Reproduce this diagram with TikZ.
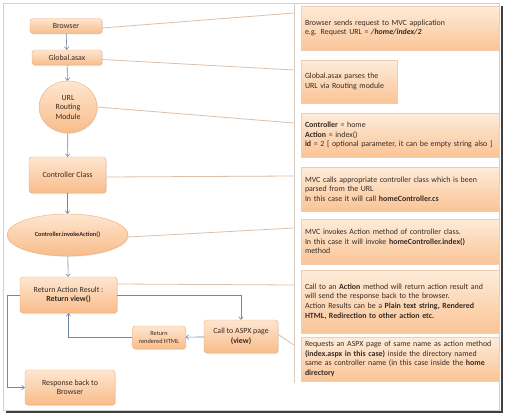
\documentclass[tikz,border=0pt]{standalone}
\usepackage{fontspec}
\setmainfont{Carlito}
\usepackage{xcolor}
\usetikzlibrary{arrows.meta,shadows,shapes.geometric}

\definecolor{boxtop}{RGB}{254,230,208}
\definecolor{boxbot}{RGB}{249,188,138}
\definecolor{boxline}{RGB}{238,172,118}
\definecolor{notetop}{RGB}{254,236,218}
\definecolor{notebot}{RGB}{250,196,150}
\definecolor{noteline}{RGB}{240,205,178}
\definecolor{flowblue}{RGB}{112,136,170}
\definecolor{linktan}{RGB}{222,192,168}
\definecolor{septan}{RGB}{216,204,192}
\definecolor{ink}{RGB}{55,42,35}

\begin{document}
\begin{tikzpicture}[x=1pt, y=-1pt,
    block/.style={rectangle, rounded corners=3pt, draw=boxline, top color=boxtop, bottom color=boxbot, align=center, text=ink, inner sep=1pt,
        font=\fontsize{7.9}{9.5}\selectfont, drop shadow={opacity=0.2, shadow xshift=0.8pt, shadow yshift=-0.8pt}},
    oval/.style={block, ellipse, inner sep=0pt},
    note/.style={rectangle, draw=noteline, top color=notetop, bottom color=notebot, align=left, text=ink, inner xsep=4pt,
        font=\fontsize{7.9}{9.6}\selectfont, drop shadow={opacity=0.2, shadow xshift=0.8pt, shadow yshift=-0.8pt}},
    arrow/.style={-{Straight Barb[length=2.6pt,width=4.5pt]}, draw=flowblue, line width=0.6pt},
    link/.style={draw=linktan, line width=0.8pt}
]
\useasboundingbox (0,0) rectangle (506,415);

% Frame with shadow
\fill[white] (3,3) rectangle (499,410);
\draw[black!18] (3,3) rectangle (499,410);
\draw[black!75, line width=1.6pt] (502,6) -- (502,412) -- (6,412);

% Request flow
\node[block, minimum width=72pt, minimum height=15pt] (browser) at (66,26) {Browser};
\node[block, minimum width=70pt, minimum height=15pt] (global) at (67,57.5) {Global.asax};
\node[oval, minimum width=58pt, minimum height=52pt] (routing) at (68,107) {URL\\Routing\\Module};
\node[block, minimum width=77pt, minimum height=36pt] (ctrl) at (67.5,175) {Controller Class};
\node[oval, minimum width=121pt, minimum height=42pt, font=\fontsize{6.3}{7.5}\selectfont\bfseries] (invoke) at (67.5,235) {Controller.invokeAction()};
\node[block, minimum width=97pt, minimum height=36pt] (result) at (68.5,295) {Return Action Result :\\ \textbf{Return view()}};
\node[block, minimum width=53pt, minimum height=23pt, font=\fontsize{6.3}{7.6}\selectfont] (rendered) at (159,337.5) {Return\\ rendered HTML};
\node[block, minimum width=74pt, minimum height=33pt] (aspx) at (241,336.5) {Call to ASPX page\\ \textbf{(view)}};
\node[block, minimum width=90pt, minimum height=35pt] (response) at (70,387.5) {Response back to\\ Browser};

% Flow arrows
\draw[arrow] (browser) -- (global);
\draw[arrow] (global) -- (routing);
\draw[arrow] (routing) -- (ctrl);
\draw[arrow] (ctrl) -- (invoke);
\draw[arrow] (invoke) -- (result);
\draw[arrow] (result.east) -| (aspx.north);
\draw[arrow] (aspx) -- (rendered);
\draw[arrow] (rendered.west) -| (result.south);
\draw[arrow] (result.west) -- ++(-13,0) |- (response.west);

% Notes
\node[note, text width=190pt, minimum height=44pt] (browserNote) at (400,28) {Browser sends request to MVC application\\ e.g. Request URL = \textbf{\textit{/home/index/2}}};
\node[note, text width=88pt, minimum height=43pt] (globalNote) at (349,81.5) {Global.asax parses the\\ URL via Routing module};
\node[note, text width=190pt, minimum height=44pt] (routingNote) at (400,135) {\textbf{Controller} = home\\ \textbf{Action} = index()\\ \textbf{id} = 2 [ optional parameter, it can be empty string also ]};
\node[note, text width=190pt, minimum height=44pt] (ctrlNote) at (400,189) {MVC calls appropriate controller class which is been\\ parsed from the URL\\ In this case it will call \textbf{homeController.cs}};
\node[note, text width=190pt, minimum height=45pt] (invokeNote) at (400,241.5) {MVC invokes Action method of controller class.\\ In this case it will invoke \textbf{homeController.index()}\\ method};
\node[note, text width=190pt, minimum height=63pt] (resultNote) at (400,301.5) {Call to an \textbf{Action} method will return action result and\\ will send the response back to the browser.\\ Action Results can be a \textbf{Plain text string, Rendered}\\ \textbf{HTML, Redirection to other action etc.}};
\node[note, text width=190pt, minimum height=44pt] (aspxNote) at (400,359) {Requests an ASPX page of same name as action method\\ \textbf{(index.aspx in this case)} inside the directory named\\ same as controller name (in this case inside the \textbf{home}\\ \textbf{directory}};

% Separator and its joints
\coordinate (sepTop) at (294,4);
\coordinate (sepBot) at (294,383);
\coordinate (s1) at (294,13);
\coordinate (s2) at (294,70);
\coordinate (s3) at (294,123);
\coordinate (s4) at (294,176);
\coordinate (s5) at (294,228);
\coordinate (s6) at (294,285);
\coordinate (s7) at (294,345);
\draw[draw=septan, line width=0.8pt] (sepTop) -- (sepBot);

% Links to the notes
\draw[link] ([yshift=-2pt]browser.east) -- (s1);
\draw[link] ([yshift=-2pt]global.east) -- (s2);
\draw[link] (routing.east) -- (s3);
\draw[link] ([yshift=-2pt]ctrl.east) -- (s4);
\draw[link] ([yshift=-2pt]invoke.east) -- (s5);
\draw[link] ([yshift=11pt]result.east) -- (s6);
\draw[link] ([yshift=2pt]aspx.east) -- (s7);

\end{tikzpicture}
\end{document}
